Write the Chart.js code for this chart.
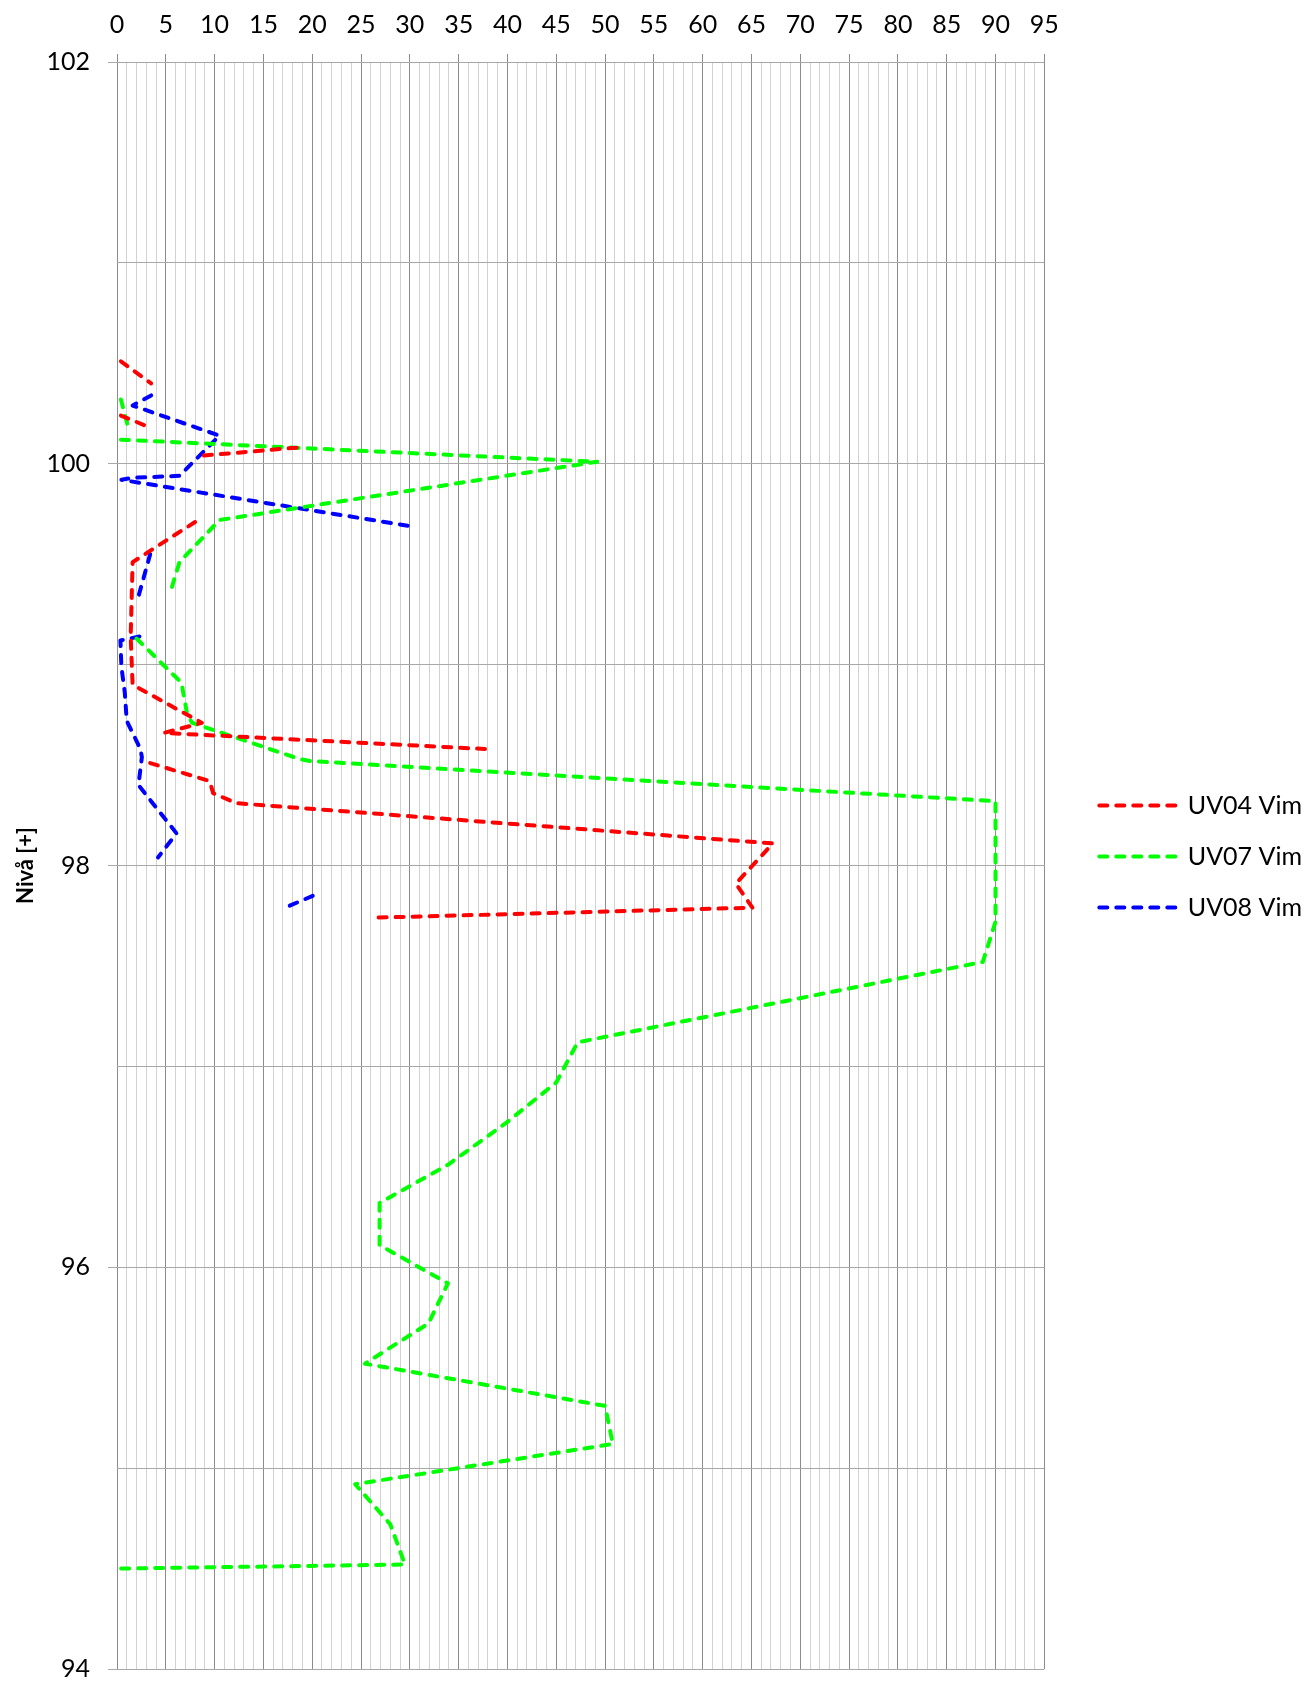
<!DOCTYPE html>
<html lang="sv">
<head>
<meta charset="utf-8">
<title>Nivå – UV04 / UV07 / UV08 Vim</title>
<script src="https://cdn.jsdelivr.net/npm/chart.js@4.4.1/dist/chart.umd.min.js"></script>
<style>
  html, body { margin: 0; padding: 0; background: #fff; }
  #wrap { width: 1304px; height: 1702px; }
</style>
</head>
<body>
<div id="wrap"><canvas id="chart-niva" width="1304" height="1702"></canvas></div>
<script>
(function() {
  "use strict";

  // ===== データ (null = 欠測) =====
  var xTickLabels = [0, 5, 10, 15, 20, 25, 30, 35, 40, 45, 50, 55, 60, 65, 70, 75, 80, 85, 90, 95];
  var yTickLabels = [94, 96, 98, 100, 102];

  var seriesNames = ['UV04 Vim', 'UV07 Vim', 'UV08 Vim'];

  var uv04Value = [0.4, 3.5, null, 0.4, 2.9, null, 18.4, 8.7, null,
    8.0, 3.5, 1.6, 1.4, 1.6, 8.7, 4.8, 37.7, null,
    3.4, 9.5, 9.85, 12.25, 67.2, 63.4, 65.1, 26.2];
  var uv04Level = [100.51, 100.40, null, 100.24, 100.19, null, 100.08, 100.04, null,
    99.71, 99.57, 99.51, 99.14, 98.90, 98.71, 98.66, 98.58, null,
    98.51, 98.42, 98.36, 98.31, 98.11, 97.91, 97.79, 97.74];

  var uv07Value = [0.4, 1.1, null, 0.4, 49.2, 10.5, 6.4, 5.4, null,
    2.0, 6.6, 7.2, 7.7, 18.7, 19.8, 90.0, 90.0, 88.7, 47.2, 45.0, 39.9, 33.9,
    26.9, 26.9, 33.9, 31.9, 25.4, 50.0, 50.8, 24.4, 28.0, 29.5, 0.3];
  var uv07Level = [100.32, 100.19, null, 100.12, 100.01, 99.72, 99.51, 99.35, null,
    99.13, 98.91, 98.75, 98.71, 98.53, 98.52, 98.32, 97.72, 97.52, 97.12, 96.92, 96.72, 96.51,
    96.32, 96.11, 95.92, 95.72, 95.52, 95.31, 95.12, 94.92, 94.72, 94.52, 94.50];

  var uv08Value = [3.5, 1.6, 10.5, 6.4, 1.6, 0.45, 30.0, null,
    3.4, 2.2, null,
    2.3, 0.35, 0.45, 0.8, 1.0, 2.4, 2.55, 2.2, 6.1, 4.2, null,
    17.7, 20.1];
  var uv08Level = [100.34, 100.29, 100.14, 99.94, 99.93, 99.92, 99.69, null,
    99.55, 99.34, null,
    99.14, 99.12, 98.99, 98.86, 98.72, 98.58, 98.54, 98.40, 98.16, 98.04, null,
    97.80, 97.85];

  var FONT = 'Lato, "Liberation Sans", Arial, sans-serif';
  var DASH = [8, 9];
  Chart.defaults.font.family = FONT;
  Chart.defaults.color = '#000';

  /** 値と標高の配列から {x, y} の点列を作る */
  function toPoints(values, levels) {
    return values.map(function(v, i) {
      if (v === null || levels[i] === null) return { x: null, y: null };
      return { x: v, y: levels[i] };
    });
  }

  function lineDataset(label, color, values, levels) {
    return {
      label: label,
      data: toPoints(values, levels),
      borderColor: color,
      backgroundColor: color,
      borderWidth: 4,
      borderDash: DASH,
      borderCapStyle: 'round',
      borderJoinStyle: 'round',
      pointRadius: 0,
      pointHoverRadius: 0,
      tension: 0,
      spanGaps: false,
      xAxisID: 'x',
      yAxisID: 'y'
    };
  }

  /** 凡例は破線の線サンプルで表示 */
  function legendLabels(chart) {
    return chart.data.datasets.map(function(ds, i) {
      return {
        text: ds.label,
        fillStyle: ds.borderColor,
        strokeStyle: ds.borderColor,
        fontColor: '#000',
        lineWidth: 4,
        lineDash: DASH,
        lineCap: 'round',
        pointStyle: 'line',
        hidden: false,
        datasetIndex: i
      };
    });
  }

  function isMajorX(c) {
    return c.tick && xTickLabels.indexOf(c.tick.value) >= 0;
  }

  function isLabelY(c) {
    return c.tick && yTickLabels.indexOf(c.tick.value) >= 0;
  }

  var ctx = document.getElementById('chart-niva');

  new Chart(ctx, {
    type: 'line',
    data: {
      datasets: [
        lineDataset(seriesNames[0], '#ff0000', uv04Value, uv04Level),
        lineDataset(seriesNames[1], '#00ff00', uv07Value, uv07Level),
        lineDataset(seriesNames[2], '#0000ff', uv08Value, uv08Level)
      ]
    },
    options: {
      responsive: false,
      animation: false,
      layout: { padding: { left: 0, top: 0, right: -8, bottom: 13 } },
      plugins: {
        legend: {
          position: 'right',
          align: 'center',
          maxWidth: 320,
          title: { display: true, text: ' ', font: { size: 10 }, padding: 6 },
          labels: {
            usePointStyle: true,
            pointStyle: 'line',
            pointStyleWidth: 76,
            padding: 26,
            color: '#000',
            font: { size: 25 },
            generateLabels: legendLabels
          }
        },
        tooltip: { enabled: false }
      },
      scales: {
        x: {
          type: 'linear',
          position: 'top',
          min: 0,
          max: 95,
          afterFit: function(s) { s.height = 62; },
          border: { display: false },
          grid: {
            color: function(c) { return isMajorX(c) ? '#8c8c8c' : '#d2d2d2'; },
            lineWidth: 1,
            tickLength: 8,
            tickColor: function(c) { return isMajorX(c) ? '#8c8c8c' : 'rgba(0,0,0,0)'; }
          },
          ticks: {
            stepSize: 1,
            autoSkip: false,
            maxRotation: 0,
            padding: 14,
            color: '#000',
            font: { size: 25 },
            callback: function(v) { return xTickLabels.indexOf(v) >= 0 ? String(v) : ''; }
          }
        },
        y: {
          type: 'linear',
          position: 'left',
          min: 94,
          max: 102,
          afterFit: function(s) { s.width = 117; },
          border: { display: false },
          grid: {
            color: '#a8a8a8',
            lineWidth: 1,
            tickLength: 9,
            tickColor: function(c) { return isLabelY(c) ? '#a8a8a8' : 'rgba(0,0,0,0)'; }
          },
          ticks: {
            stepSize: 1,
            autoSkip: false,
            padding: 18,
            color: '#000',
            font: { size: 25 },
            callback: function(v) { return yTickLabels.indexOf(v) >= 0 ? String(v) : ''; }
          },
          title: {
            display: true,
            text: 'Nivå [+]',
            color: '#000',
            font: { size: 22, weight: 'bold' },
            padding: { top: 13, bottom: 0 }
          }
        },
        // 凡例との間隔用の空の軸
        legendGap: {
          type: 'linear',
          position: 'right',
          display: true,
          grid: { display: false },
          border: { display: false },
          ticks: { display: false },
          afterFit: function(s) { s.width = 29; }
        }
      }
    }
  });
})();
</script>
</body>
</html>
